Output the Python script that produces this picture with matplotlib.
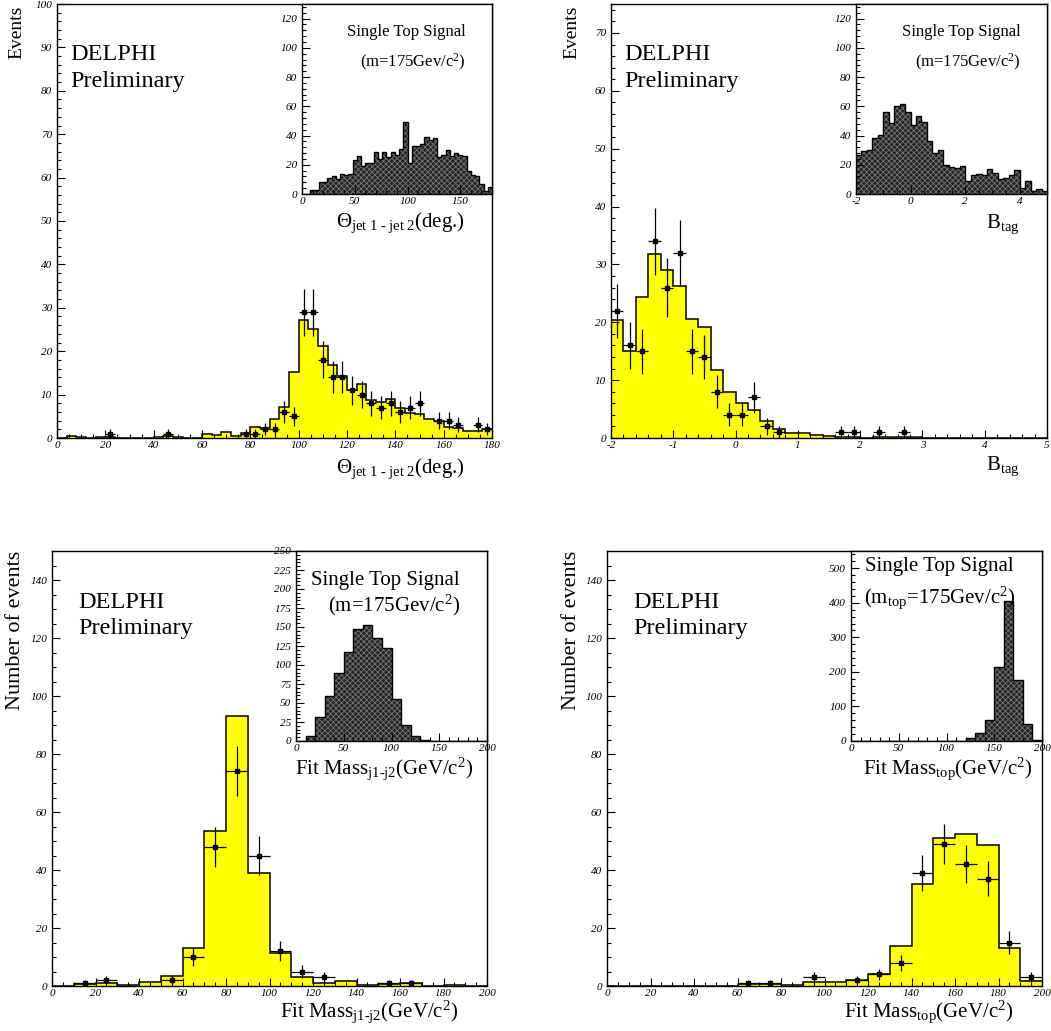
import numpy as np
import matplotlib
matplotlib.use("Agg")
import matplotlib.pyplot as plt
from matplotlib.ticker import MultipleLocator

plt.rcParams['font.family'] = ['Liberation Serif', 'DejaVu Serif']
plt.rcParams['mathtext.fontset'] = 'custom'
plt.rcParams['mathtext.rm'] = 'Liberation Serif'
plt.rcParams['mathtext.it'] = 'Liberation Serif:italic'
plt.rcParams['axes.unicode_minus'] = False
plt.rcParams['hatch.linewidth'] = 0.6

W, H = 1051, 1031

# ---- 数据 ----
# 角度 Theta(jet1-jet2)，0-180，每格4度
theta_edges = np.arange(0, 181, 4)
theta_mc = [0.1, 0.4, 0.2, 0.0, 0.2, 0.3, 0.1, 0.0, 0.0, 0.1, 0.2, 0.4, 0.3, 0.0, 0.0,
            1.0, 0.7, 1.3, 0.5, 1.2, 2.5, 2.2, 4.3, 7.1, 15.2, 27.1, 25.2, 21.1, 16.8, 14.4,
            11.1, 12.4, 8.8, 8.2, 9.0, 6.8, 5.8, 5.6, 4.4, 4.0, 2.5, 2.2, 1.7, 1.5, 2.0]
theta_data = [0, 0, 0, 0, 0, 1, 0, 0, 0, 0, 0, 1, 0, 0, 0,
              0, 0, 0, 0, 1, 1, 2, 2, 6, 5, 29, 29, 18, 14, 14,
              11, 10, 8, 7, 8, 6, 7, 8, 0, 4, 4, 3, 0, 3, 2]
theta_sig = [0, 0, 3, 3, 8, 8, 11, 12, 10, 14, 13, 14, 23, 26, 19,
             21, 21, 29, 24, 29, 25, 29, 27, 31, 49, 21, 33, 33, 34, 39,
             37, 38, 25, 27, 30, 26, 28, 27, 26, 16, 13, 12, 7, 2, 5]

# B_tag，-2到5，每格0.2
btag_edges = np.linspace(-2, 5, 36)
btag_mc = [20.4, 15.1, 24.3, 31.8, 29.0, 26.2, 20.6, 19.1, 11.7, 8.0, 6.1, 4.9, 2.9, 1.6,
           0.9, 0.9, 0.45, 0.3, 0.1, 0.1, 0.05, 0.1, 0.2, 0.1, 0.1, 0.05, 0.05, 0.05,
           0.05, 0.05, 0.0, 0.0, 0.0, 0.0, 0.0]
btag_data = [22, 16, 15, 34, 26, 32, 15, 14, 8, 4, 4, 7, 2, 1,
             0, 0, 0, 0, 1, 1, 0, 1, 0, 1, 0, 0, 0, 0, 0, 0, 0, 0, 0, 0, 0]
btag_sig = [26.7, 29.5, 30.2, 38.2, 40.2, 56.2, 48.5, 60.3, 61.5, 56, 47.3, 53.3, 49.1, 36.1,
            28.3, 30, 20.1, 18.7, 18, 19, 8.9, 13, 14, 13, 16.9, 14.2, 10.3, 11.2,
            13, 16.2, 4.3, 8.9, 2, 3.2, 2.3]

# 拟合质量 j1-j2，0-200，每格10
mjj_edges = np.arange(0, 201, 10)
mjj_mc = [0, 0.6, 1.0, 0.4, 1.3, 3.3, 13.0, 53.3, 93.1, 38.8,
          11.3, 3.2, 1.0, 1.6, 0.5, 0.6, 1.1, 0.1, 0.5, 0]
mjj_data = [0, 1, 2, 0, 0, 2, 10, 48, 74, 45, 12, 5, 3, 0, 0, 1, 1, 0, 0, 0]
mjj_sig = [0, 6.6, 31, 59, 90, 117, 147, 152, 136, 122, 55, 21, 6.6, 1.3, 0.5, 0, 0, 0, 0, 0]

# 拟合质量 top
mtop_edges = np.arange(0, 201, 10)
mtop_mc = [0, 0, 0, 0, 0, 0, 0.6, 0.8, 0.2, 1.3,
           1.5, 2.0, 4.3, 13.8, 35.2, 50.9, 52.3, 48.7, 13.0, 1.8]
mtop_data = [0, 0, 0, 0, 0, 0, 1, 1, 0, 3, 0, 2, 4, 8, 39, 49, 42, 37, 15, 3]
mtop_sig = [0, 0, 0, 0, 0, 0, 0, 0, 0, 0, 0, 1, 8, 24, 60, 214, 406, 178, 50, 3]

theta_label = r'$\Theta_{\mathrm{jet\ 1\ \text{-}\ jet\ 2}}$(deg.)'
btag_label = r'B$_{\mathrm{tag}}$'
mjj_label = r'Fit Mass$_{\mathrm{j1\text{-}j2}}$(GeV/c$^2$)'
mtop_label = r'Fit Mass$_{\mathrm{top}}$(GeV/c$^2$)'


def box(x0, y0, x1, y1):
    # 像素坐标 -> figure 比例
    return [x0 / W, 1 - y1 / H, (x1 - x0) / W, (y1 - y0) / H]


def px(x, y):
    return x / W, 1 - y / H


def style_axes(ax, xmaj, xmin, ymaj, ymin, lsize=8):
    ax.xaxis.set_major_locator(MultipleLocator(xmaj))
    ax.xaxis.set_minor_locator(MultipleLocator(xmin))
    ax.yaxis.set_major_locator(MultipleLocator(ymaj))
    ax.yaxis.set_minor_locator(MultipleLocator(ymin))
    ax.tick_params(which='both', direction='in', top=False, right=False,
                   labelsize=lsize, width=0.8)
    ax.tick_params(which='major', length=6)
    ax.tick_params(which='minor', length=3)
    ax.tick_params(axis='x', pad=2.5)
    for lbl in ax.get_xticklabels() + ax.get_yticklabels():
        lbl.set_fontstyle('italic')
    for s in ax.spines.values():
        s.set_linewidth(1.0)


def main_hist(ax, edges, mc, data):
    mc = np.array(mc, dtype=float)
    data = np.array(data, dtype=float)
    ax.stairs(mc, edges, fill=True, color='#ffff00', baseline=0)
    ax.stairs(mc, edges, color='black', linewidth=1.1, baseline=None)
    centers = 0.5 * (edges[:-1] + edges[1:])
    half = 0.5 * (edges[1] - edges[0])
    m = data > 0
    ax.errorbar(centers[m], data[m], yerr=np.sqrt(data[m]), xerr=half,
                fmt='s', ms=2.5, color='black', elinewidth=0.9, capsize=0)


def inset_hist(ax, edges, sig):
    sig = np.array(sig, dtype=float)
    ax.stairs(sig, edges, fill=True, facecolor='#262626', edgecolor='#777777',
              hatch='xxxxxx', linewidth=0, baseline=0)
    ax.stairs(sig, edges, color='black', linewidth=1.0, baseline=None)


fig = plt.figure(figsize=(W / 100, H / 100), dpi=100)

# ---- 左上：Theta ----
ax1 = fig.add_axes(box(57, 4, 492, 438))
main_hist(ax1, theta_edges, theta_mc, theta_data)
ax1.set_xlim(0, 180)
ax1.set_ylim(0, 100)
style_axes(ax1, 20, 5, 10, 2)
ax1.text(0.938, -0.07, theta_label, transform=ax1.transAxes,
         ha='right', va='center', fontsize=15)

in1 = fig.add_axes(box(302, 4, 492, 194))
inset_hist(in1, theta_edges, theta_sig)
in1.set_xlim(0, 180)
in1.set_ylim(0, 130)
style_axes(in1, 50, 10, 20, 4)
in1.text(0.858, -0.15, theta_label, transform=in1.transAxes,
         ha='right', va='center', fontsize=15)

# ---- 右上：B_tag ----
ax2 = fig.add_axes(box(611, 4, 1047, 438))
main_hist(ax2, btag_edges, btag_mc, btag_data)
ax2.set_xlim(-2, 5)
ax2.set_ylim(0, 75)
style_axes(ax2, 1, 0.2, 10, 2)
ax2.text(0.938, -0.065, btag_label, transform=ax2.transAxes,
         ha='right', va='center', fontsize=15)

in2 = fig.add_axes(box(856, 4, 1047, 194))
inset_hist(in2, btag_edges, btag_sig)
in2.set_xlim(-2, 5)
in2.set_ylim(0, 130)
style_axes(in2, 2, 0.5, 20, 4)
in2.text(0.859, -0.16, btag_label, transform=in2.transAxes,
         ha='right', va='center', fontsize=15)

# ---- 左下：Fit Mass j1-j2 ----
ax3 = fig.add_axes(box(52, 551, 487, 986))
main_hist(ax3, mjj_edges, mjj_mc, mjj_data)
ax3.set_xlim(0, 200)
ax3.set_ylim(0, 150)
style_axes(ax3, 20, 5, 20, 5)
ax3.text(0.933, -0.06, mjj_label, transform=ax3.transAxes,
         ha='right', va='center', fontsize=15)

in3 = fig.add_axes(box(296, 551, 487, 741))
inset_hist(in3, mjj_edges, mjj_sig)
in3.set_xlim(0, 200)
in3.set_ylim(0, 250)
style_axes(in3, 50, 10, 25, 5)
in3.text(0.927, -0.145, mjj_label, transform=in3.transAxes,
         ha='right', va='center', fontsize=15)

# ---- 右下：Fit Mass top ----
ax4 = fig.add_axes(box(607, 551, 1042, 986))
main_hist(ax4, mtop_edges, mtop_mc, mtop_data)
ax4.set_xlim(0, 200)
ax4.set_ylim(0, 150)
style_axes(ax4, 20, 5, 20, 5)
ax4.text(0.933, -0.06, mtop_label, transform=ax4.transAxes,
         ha='right', va='center', fontsize=15)

in4 = fig.add_axes(box(851, 551, 1042, 741))
inset_hist(in4, mtop_edges, mtop_sig)
in4.set_xlim(0, 200)
in4.set_ylim(0, 550)
style_axes(in4, 50, 10, 100, 20)
in4.text(0.95, -0.145, mtop_label, transform=in4.transAxes,
         ha='right', va='center', fontsize=15)

# ---- 文字 ----
for (x, yb1, yb2) in [(70, 60, 87), (624, 60, 87), (78, 608, 634), (633, 608, 634)]:
    fig.text(*px(x, yb1), 'DELPHI', fontsize=17.5, ha='left', va='baseline')
    fig.text(*px(x, yb2), 'Preliminary', fontsize=17.5, ha='left', va='baseline')

fig.text(*px(17, 6), 'Events', rotation=90, fontsize=14, ha='center', va='top')
fig.text(*px(572, 6), 'Events', rotation=90, fontsize=14, ha='center', va='top')
fig.text(*px(16, 551), 'Number of events', rotation=90, fontsize=16, ha='center', va='top')
fig.text(*px(571, 551), 'Number of events', rotation=90, fontsize=16, ha='center', va='top')

# 插图标题
fig.text(*px(406, 32), 'Single Top Signal', fontsize=12, ha='center', va='center')
fig.text(*px(413, 62), r'(m=175Gev/c$^2$)', fontsize=12, ha='center', va='center')
fig.text(*px(961, 32), 'Single Top Signal', fontsize=12, ha='center', va='center')
fig.text(*px(968, 62), r'(m=175Gev/c$^2$)', fontsize=12, ha='center', va='center')
fig.text(*px(385, 580), 'Single Top Signal', fontsize=15, ha='center', va='center')
fig.text(*px(394, 605), r'(m=175Gev/c$^2$)', fontsize=15, ha='center', va='center')
fig.text(*px(939, 567), 'Single Top Signal', fontsize=15, ha='center', va='center')
fig.text(*px(940, 598), r'(m$_{\mathrm{top}}$=175Gev/c$^2$)', fontsize=15, ha='center', va='center')

fig.savefig('out.png', dpi=100)
